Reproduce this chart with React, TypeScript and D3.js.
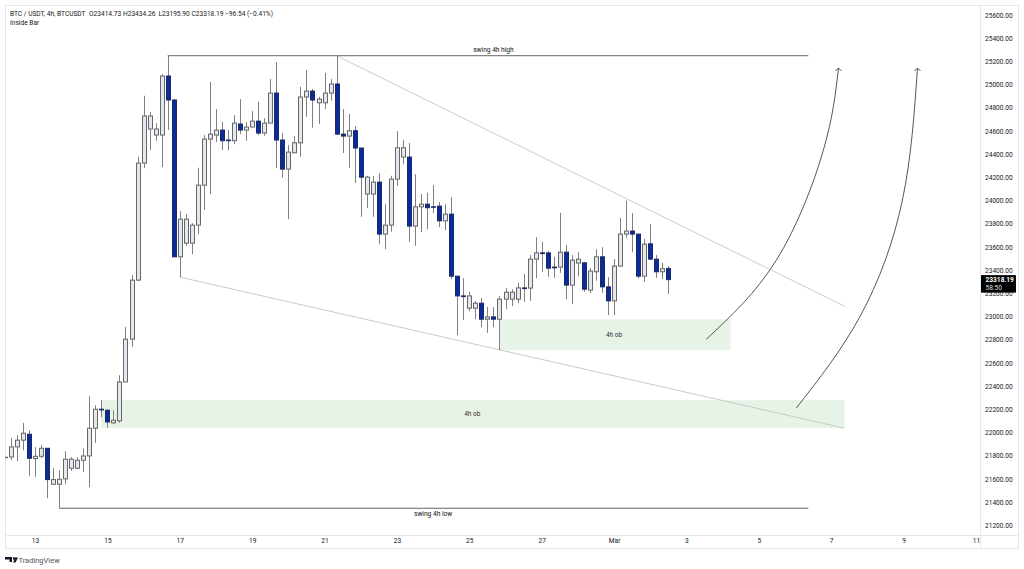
import React, { useRef, useEffect } from "react";
import * as d3 from "d3";

const WIDTH = 1024;
const HEIGHT = 569;
const FONT = "Roboto, sans-serif";

// first bar of the visible series sits five 4h bars before Feb 13 00:00
const T0 = Date.UTC(2023, 1, 13);
const FIRST_BAR = -5;

const opens = [
  21783, 21789, 21876, 21934, 21985, 21776, 21795, 21864, 21554, 21554, 21600, 21692, 21692, 21761, 21798, 22037,
  22201, 22192, 22083, 22100, 22436, 22805, 23314, 24323, 24617, 24565, 24565, 25074, 24867, 23515, 23633, 23633,
  23788, 24133, 24530, 24565, 24608, 24522, 24516, 24660, 24608, 24634, 24685, 24582, 24668, 24927, 24522, 24271,
  24412, 24498, 24893, 24944, 24843, 24843, 24927, 25005, 24573, 24556, 24602, 24453, 24056, 24056, 24159, 23711,
  23788, 24185, 24375, 24375, 23780, 23946, 23969, 23946, 23952, 23825, 23883, 23348, 23178, 23072, 23072, 23115,
  22977, 22997, 22977, 23150, 23150, 23150, 23247, 23245, 23495, 23549, 23549, 23426, 23426, 23555, 23271, 23461,
  23463, 23228, 23386, 23515, 23256, 23135, 23435, 23711, 23737, 23711, 23348, 23627, 23495, 23386, 23414.73,
];
const highs = [
  21795, 21951, 21977, 22083, 22020, 21873, 21890, 21864, 21694, 21675, 21839, 21787, 21787, 21864, 22313, 22235,
  22279, 22201, 22192, 22494, 22911, 23357, 24378, 24904, 24763, 24668, 25091, 25249, 24875, 23909, 23883, 23805,
  24283, 24565, 25022, 24789, 24679, 24608, 24737, 24875, 24677, 24772, 24852, 24711, 25048, 25194, 24582, 24478,
  24556, 24981, 25125, 24962, 24895, 25100, 25048, 25249, 24789, 24746, 24642, 24453, 24214, 24211, 24237, 23969,
  24214, 24599, 24522, 24496, 24228, 24056, 24067, 24133, 23987, 23969, 24030, 23348, 23331, 23213, 23135, 23159,
  23083, 23081, 23176, 23245, 23236, 23291, 23366, 23530, 23685, 23644, 23564, 23515, 23894, 23616, 23530, 23555,
  23472, 23417, 23581, 23598, 23340, 23495, 23849, 24000, 23892, 23711, 23668, 23797, 23530, 23463, 23434.26,
];
const lows = [
  21775, 21761, 21752, 21847, 21623, 21617, 21778, 21433, 21554, 21347, 21554, 21669, 21683, 21660, 21528, 21910,
  22132, 22040, 22072, 22083, 22436, 22738, 23308, 24280, 24435, 24516, 24289, 24608, 23512, 23340, 23610, 23538,
  23711, 23918, 24056, 24504, 24435, 24435, 24487, 24573, 24516, 24634, 24565, 24559, 24668, 24280, 24196, 23840,
  24410, 24378, 24723, 24628, 24660, 24789, 24861, 24565, 24410, 24283, 24151, 23860, 23935, 23860, 23624, 23581,
  23731, 24125, 24315, 23644, 23610, 23728, 23754, 23892, 23771, 23745, 23323, 22839, 22969, 23046, 22977, 22908,
  22859, 22908, 22709, 23064, 23089, 23115, 23127, 23135, 23331, 23386, 23342, 23334, 23377, 23150, 23107, 23348,
  23213, 23202, 23308, 23204, 23012, 23012, 23429, 23676, 23555, 23331, 23299, 23486, 23334, 23323, 23195.9,
];
const closes = [
  21787, 21876, 21934, 21994, 21778, 21795, 21864, 21594, 21594, 21597, 21770, 21770, 21761, 21798, 22037, 22201,
  22195, 22091, 22106, 22436, 22805, 23314, 24323, 24729, 24729, 24617, 25074, 24867, 23515, 23840, 23840, 23788,
  24133, 24530, 24573, 24608, 24516, 24516, 24668, 24608, 24634, 24685, 24582, 24668, 24927, 24522, 24271, 24418,
  24498, 24893, 24944, 24867, 24875, 24927, 25005, 24573, 24556, 24602, 24453, 24202, 24202, 24159, 23711, 23788,
  24185, 24455, 24455, 23780, 23946, 23969, 23938, 23942, 23825, 23883, 23348, 23178, 23172, 23178, 23115, 22977,
  22997, 22977, 23150, 23210, 23210, 23247, 23241, 23495, 23549, 23543, 23417, 23420, 23555, 23271, 23486, 23495,
  23236, 23392, 23515, 23256, 23135, 23435, 23711, 23737, 23711, 23348, 23624, 23495, 23386, 23412, 23318.19,
];

const priceTicks = [
  21200, 21400, 21600, 21800, 22000, 22200, 22400, 22600, 22800, 23000, 23200, 23400, 23600, 23800, 24000, 24200,
  24400, 24600, 24800, 25000, 25200, 25400, 25600,
];
const dayTicks = [
  [2, 13, "13"], [2, 15, "15"], [2, 17, "17"], [2, 19, "19"], [2, 21, "21"], [2, 23, "23"], [2, 25, "25"], [2, 27, "27"],
  [3, 1, "Mar"], [3, 3, "3"], [3, 5, "5"], [3, 7, "7"], [3, 9, "9"], [3, 11, "11"],
] as [number, number, string][];

// drawings, in bars after Feb 13 00:00 and price
const swings = [
  { from: 22, to: 128.2, price: 25249, label: "swing 4h high", labelBar: 76, labelPrice: 25280 },
  { from: 4, to: 128.2, price: 21347, label: "swing 4h low", labelBar: 66, labelPrice: 21278 },
];
const trendLines = [
  { bars: [50, 134.2], prices: [25249, 23089] },
  { bars: [24, 134.2], prices: [23340, 22037] },
];
const orderBlocks = [
  { from: 77, to: 115.3, top: 22977, bottom: 22709, label: "4h ob", labelBar: 96 },
  { from: 11, to: 134.2, top: 22279, bottom: 22037, label: "4h ob", labelBar: 72.5 },
];
const arrowBars = [
  [111.3, 122.9, 130.7, 133.2],
  [126.2, 136.8, 143.8, 146.3],
];
const arrowPrices = [
  [22805, 23486, 24435, 25143],
  [22210, 23003, 24004, 25143],
];

const barDate = (b: number) => new Date(T0 + b * 4 * 3600 * 1000);

export default function App() {
  const svgRef = useRef<SVGSVGElement | null>(null);

  useEffect(() => {
    const svg = d3.select(svgRef.current);
    svg.selectAll("*").remove();

    const x = d3
      .scaleUtc()
      .domain([new Date(T0), new Date(Date.UTC(2023, 2, 11))])
      .range([35, 976]);
    const y = d3.scaleLinear().domain([21200, 25600]).range([525.3, 15]);

    // Frame
    const frame = svg.append("g").attr("stroke", "#e6e7ea").attr("fill", "none");
    frame.append("rect").attr("x", 5.5).attr("y", 5.5).attr("width", 1013).attr("height", 543);
    frame.append("line").attr("x1", 980.5).attr("x2", 980.5).attr("y1", 5.5).attr("y2", 549);
    frame.append("line").attr("x1", 5.5).attr("x2", 1018.5).attr("y1", 535.5).attr("y2", 535.5);

    svg
      .append("clipPath")
      .attr("id", "pane")
      .append("rect")
      .attr("x", 5.5)
      .attr("y", 5.5)
      .attr("width", 975)
      .attr("height", 530);

    // Order blocks
    svg
      .append("g")
      .selectAll("rect")
      .data(orderBlocks)
      .join("rect")
      .attr("x", (d) => x(barDate(d.from)))
      .attr("width", (d) => x(barDate(d.to)) - x(barDate(d.from)))
      .attr("y", (d) => y(d.top))
      .attr("height", (d) => y(d.bottom) - y(d.top))
      .attr("fill", "#e8f3e7");
    svg
      .append("g")
      .selectAll("text")
      .data(orderBlocks)
      .join("text")
      .attr("x", (d) => x(barDate(d.labelBar)))
      .attr("y", (d) => (y(d.top) + y(d.bottom)) / 2 + 2)
      .attr("text-anchor", "middle")
      .attr("font-size", 6.5)
      .attr("fill", "#333")
      .text((d) => d.label);

    // Trend lines
    svg
      .append("g")
      .selectAll("line")
      .data(trendLines)
      .join("line")
      .attr("x1", (d) => x(barDate(d.bars[0])))
      .attr("x2", (d) => x(barDate(d.bars[1])))
      .attr("y1", (d) => y(d.prices[0]))
      .attr("y2", (d) => y(d.prices[1]))
      .attr("stroke", "#c4c4c4")
      .attr("stroke-width", 0.9);

    // Candles
    const candles = d3.range(opens.length);
    const g = svg.append("g").attr("clip-path", "url(#pane)");
    const cx = (i: number) => Math.round(x(barDate(i + FIRST_BAR))) + 0.5;
    g.selectAll("line")
      .data(candles)
      .join("line")
      .attr("x1", cx)
      .attr("x2", cx)
      .attr("y1", (i) => y(highs[i]))
      .attr("y2", (i) => y(lows[i]))
      .attr("stroke", "#808080")
      .attr("stroke-width", 1);
    g.selectAll("rect")
      .data(candles)
      .join("rect")
      .attr("x", (i) => cx(i) - 2)
      .attr("width", 4)
      .attr("y", (i) => y(Math.max(opens[i], closes[i])))
      .attr("height", (i) => Math.abs(y(opens[i]) - y(closes[i])))
      .attr("fill", (i) => (closes[i] >= opens[i] ? "#e4e6f0" : "#0a2b9c"))
      .attr("stroke", (i) => (closes[i] >= opens[i] ? "#666" : "#1a2a66"))
      .attr("stroke-width", 1);

    // Swing lines and labels
    svg
      .append("g")
      .selectAll("line")
      .data(swings)
      .join("line")
      .attr("x1", (d) => x(barDate(d.from)))
      .attr("x2", (d) => x(barDate(d.to)))
      .attr("y1", (d) => y(d.price))
      .attr("y2", (d) => y(d.price))
      .attr("stroke", "#666")
      .attr("stroke-width", 1);
    svg
      .append("g")
      .selectAll("text")
      .data(swings)
      .join("text")
      .attr("x", (d) => x(barDate(d.labelBar)))
      .attr("y", (d) => y(d.labelPrice))
      .attr("text-anchor", "middle")
      .attr("font-size", 6.6)
      .attr("fill", "#111")
      .text((d) => d.label);

    // Curved arrows
    const curve = d3
      .line<[number, number]>()
      .x((d) => x(barDate(d[0])))
      .y((d) => y(d[1]))
      .curve(d3.curveNatural);
    arrowBars.forEach((bars, k) => {
      const pts = bars.map((b, j) => [b, arrowPrices[k][j]] as [number, number]);
      svg
        .append("path")
        .attr("d", curve(pts))
        .attr("fill", "none")
        .attr("stroke", "#444")
        .attr("stroke-width", 0.9);
      const tipX = x(barDate(bars[bars.length - 1]));
      const tipY = y(arrowPrices[k][bars.length - 1]);
      svg
        .append("path")
        .attr("d", `M${tipX - 3},${tipY + 3}L${tipX},${tipY}L${tipX + 3},${tipY + 3}`)
        .attr("fill", "none")
        .attr("stroke", "#444")
        .attr("stroke-width", 0.9);
    });

    // Axes
    const yAxis = svg
      .append("g")
      .attr("transform", "translate(985,0)")
      .call(
        d3
          .axisRight(y)
          .tickValues(priceTicks)
          .tickSize(0)
          .tickPadding(0)
          .tickFormat((d) => (d as number).toFixed(2))
      );
    yAxis.select(".domain").remove();
    yAxis.selectAll("text").attr("font-size", 6.6).attr("font-family", FONT).attr("fill", "#131722");

    const xAxis = svg
      .append("g")
      .attr("transform", "translate(0,536)")
      .call(
        d3
          .axisBottom(x)
          .tickValues(dayTicks.map((d) => new Date(Date.UTC(2023, d[0] - 1, d[1]))))
          .tickSize(0)
          .tickPadding(2)
          .tickFormat((_, i) => dayTicks[i][2])
      );
    xAxis.select(".domain").remove();
    xAxis.selectAll("text").attr("font-size", 6.6).attr("font-family", FONT).attr("fill", "#131722");

    // Last price label
    const lastY = y(closes[closes.length - 1]);
    svg.append("rect").attr("x", 981).attr("y", lastY - 4.5).attr("width", 35).attr("height", 17.5).attr("fill", "#000");
    svg
      .append("text")
      .attr("x", 985.5)
      .attr("y", lastY + 2)
      .attr("font-size", 6.6)
      .attr("font-weight", 700)
      .attr("fill", "#fff")
      .text(closes[closes.length - 1].toFixed(2));
    svg.append("text").attr("x", 985.5).attr("y", lastY + 10.5).attr("font-size", 6.6).attr("fill", "#ddd").text("58:50");

    // Header
    const header = svg.append("g").attr("font-size", 6.6).attr("fill", "#131722");
    header.append("text").attr("x", 10).attr("y", 16).text("BTC / USDT, 4h, BTCUSDT");
    header.append("text").attr("x", 89).attr("y", 16).text(`O${opens[opens.length - 1]}`);
    header.append("text").attr("x", 123).attr("y", 16).text(`H${highs[highs.length - 1]}`);
    header.append("text").attr("x", 158.5).attr("y", 16).text(`L${lows[lows.length - 1].toFixed(2)}`);
    header.append("text").attr("x", 191.5).attr("y", 16).text(`C${closes[closes.length - 1]}`);
    header.append("text").attr("x", 225).attr("y", 16).text("−96.54 (−0.41%)");
    header.append("text").attr("x", 10).attr("y", 25).text("Inside Bar");

    // Footer logo
    const logo = svg.append("g").attr("fill", "#131722");
    logo.append("path").attr("d", "M5,557h7v5h-2.5v-2.5H5zM13,557.5h5l-2.5,5h-2.5l1.5,-3h-1.5z");
    logo.append("circle").attr("cx", 13.6).attr("cy", 558).attr("r", 0.8);
    svg
      .append("text")
      .attr("x", 18.5)
      .attr("y", 562.5)
      .attr("font-size", 7.5)
      .attr("fill", "#50535e")
      .text("TradingView");
  }, []);

  return (
    <svg
      ref={svgRef}
      width={WIDTH}
      height={HEIGHT}
      fontFamily={FONT}
      style={{ position: "absolute", left: 0, top: 0, background: "#fff" }}
    />
  );
}
